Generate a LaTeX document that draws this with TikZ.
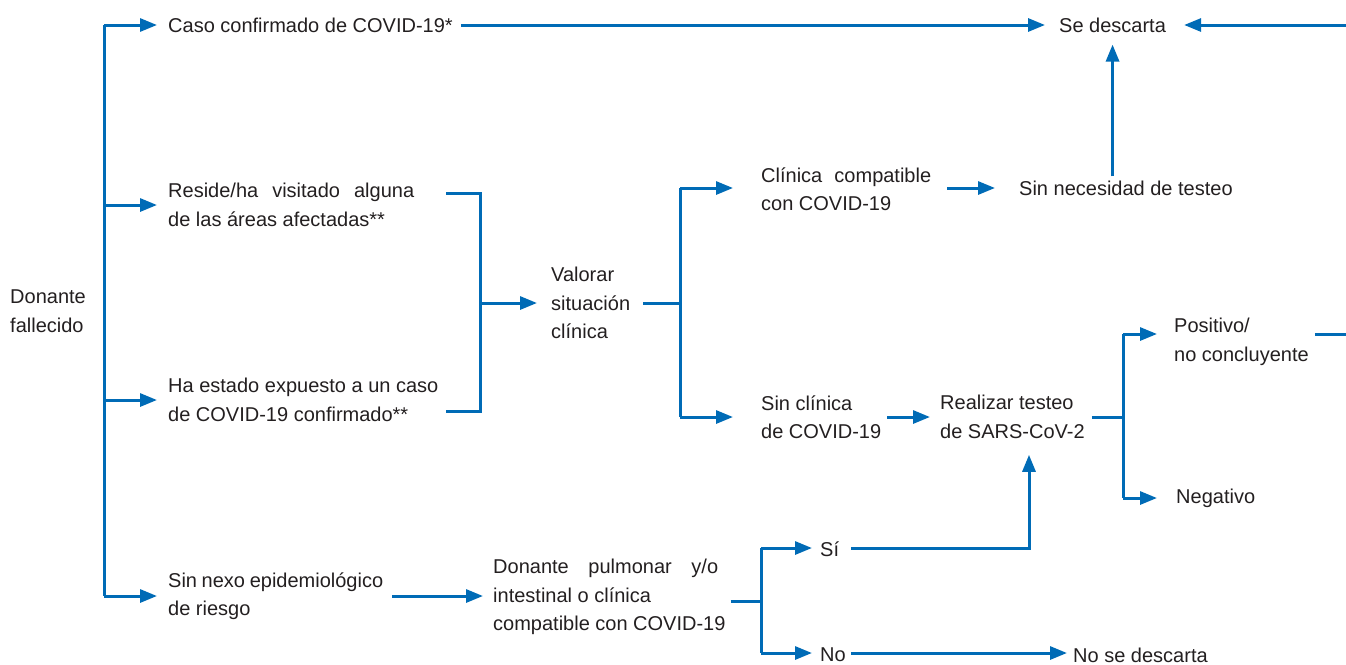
\documentclass[tikz,border=0pt]{standalone}
\usepackage{fontspec}
\setmainfont{Liberation Sans}
\usetikzlibrary{arrows.meta}
\definecolor{flowblue}{RGB}{0,107,182}
\definecolor{txtcol}{RGB}{35,31,32}
\begin{document}
\begin{tikzpicture}[x=1pt,y=-1pt,
  txt/.style={anchor=west,inner sep=0pt,align=left,text=txtcol,font=\fontsize{20}{28.5}\selectfont},
  ln/.style={draw=flowblue,line width=3pt},
  arr/.style={ln,-{Triangle[length=17pt,width=13pt]}}]
\useasboundingbox (0,0) rectangle (1346,664);
% nodes
\node[txt] (donante) at (10,311) {Donante\\fallecido};
\node[txt] (caso) at (168,25) {Caso confirmado de COVID-19*};
\node[txt] (reside) at (168,205) {\makebox[246pt][s]{Reside/ha visitado alguna}\\de las áreas afectadas**};
\node[txt] (expuesto) at (168,400) {Ha estado expuesto a un caso\\de COVID-19 confirmado**};
\node[txt] (sinnexo) at (168,596) {\makebox[215pt][s]{Sin nexo epidemiológico}\\de riesgo};
\node[txt] (valorar) at (551,303) {Valorar\\situación\\clínica};
\node[txt] (clinica) at (761,189) {\makebox[170pt][s]{Clínica compatible}\\con COVID-19};
\node[txt] (sinclin) at (761,417) {Sin clínica\\de COVID-19};
\node[txt] (sinnec) at (1019,188) {Sin necesidad de testeo};
\node[txt] (sedesc) at (1059,25) {Se descarta};
\node[txt] (realizar) at (940,417) {Realizar testeo\\de SARS-CoV-2};
\node[txt] (positivo) at (1174,342) {Positivo/\\no concluyente};
\node[txt] (negativo) at (1176,498) {Negativo};
\node[txt] (pulmonar) at (493,597) {\makebox[225pt][s]{Donante pulmonar y/o}\\intestinal o clínica\\compatible con COVID-19};
\node[txt] (si) at (820,549) {Sí};
\node[txt] (no) at (820,655) {No};
\node[txt] (nosedesc) at (1073,655) {No se descarta};
% coordinates
\coordinate (trA) at (104,25);
\coordinate (trB) at (104,205);
\coordinate (trC) at (104,400);
\coordinate (trD) at (104,596);
\coordinate (edgeTop) at (1346,25);
\coordinate (edgePos) at (1346,334);
\coordinate (brTop) at (480,193);
\coordinate (brBot) at (480,411);
\coordinate (brMid) at (480,303);
\coordinate (vaTop) at (680,188);
\coordinate (vaBot) at (680,417);
\coordinate (vaMid) at (680,303);
\coordinate (reTop) at (1123,334);
\coordinate (reBot) at (1123,498);
\coordinate (reMid) at (1123,417);
\coordinate (puTop) at (761,548);
\coordinate (puBot) at (761,653);
\coordinate (puMid) at (761,601);
\coordinate (siCorner) at (1029,548);
% connectors
\draw[ln] (trA) -- (trD);
\draw[arr] (trA) -- ([xshift=-11pt]caso.west);
\draw[arr] (trB) -- ([xshift=-11pt]reside.west);
\draw[arr] (trC) -- ([xshift=-11pt]expuesto.west);
\draw[arr] (trD) -- ([xshift=-11pt]sinnexo.west);
\draw[arr] ([xshift=8pt]caso.east) -- ([xshift=-14pt]sedesc.west);
\draw[arr] (edgeTop) -- ([xshift=18pt]sedesc.east);
\draw[arr] ([yshift=4pt]sinnec.north -| sedesc.south) -- ([yshift=-12pt]sedesc.south);
\draw[ln] (446,193) -- (brTop) -- (brBot) -- (446,411);
\draw[arr] (brMid) -- ([xshift=-14pt]valorar.west);
\draw[ln] (643,303) -- (vaMid);
\draw[ln] (vaTop) -- (vaBot);
\draw[arr] (vaTop) -- ([xshift=-28pt]clinica.west |- vaTop);
\draw[arr] (vaBot) -- ([xshift=-28pt]sinclin.west |- vaBot);
\draw[arr] ([xshift=16pt]clinica.east |- vaTop) -- ([xshift=-24pt]sinnec.west);
\draw[arr] ([xshift=6pt]sinclin.east |- vaBot) -- ([xshift=-10pt]realizar.west |- vaBot);
\draw[ln] ([xshift=7pt]realizar.east |- reMid) -- (reMid);
\draw[ln] (reTop) -- (reBot);
\draw[arr] (reTop) -- ([xshift=-17pt]positivo.west |- reTop);
\draw[arr] (reBot) -- ([xshift=-19pt]negativo.west);
\draw[ln] ([xshift=6pt]positivo.east |- edgePos) -- (edgePos);
\draw[arr] ([xshift=9pt]sinnexo.east |- trD) -- ([xshift=-10pt]pulmonar.west |- trD);
\draw[ln] ([xshift=5pt]pulmonar.east |- puMid) -- (puMid);
\draw[ln] (puTop) -- (puBot);
\draw[arr] (puTop) -- ([xshift=-8pt]si.west |- puTop);
\draw[arr] (puBot) -- ([xshift=-8pt]no.west |- puBot);
\draw[arr] ([xshift=12pt]si.east |- puTop) -- (siCorner) -- ([yshift=-16pt]realizar.south -| siCorner);
\draw[arr] ([xshift=5pt]no.east |- puBot) -- ([xshift=-6pt]nosedesc.west |- puBot);
\end{tikzpicture}
\end{document}
